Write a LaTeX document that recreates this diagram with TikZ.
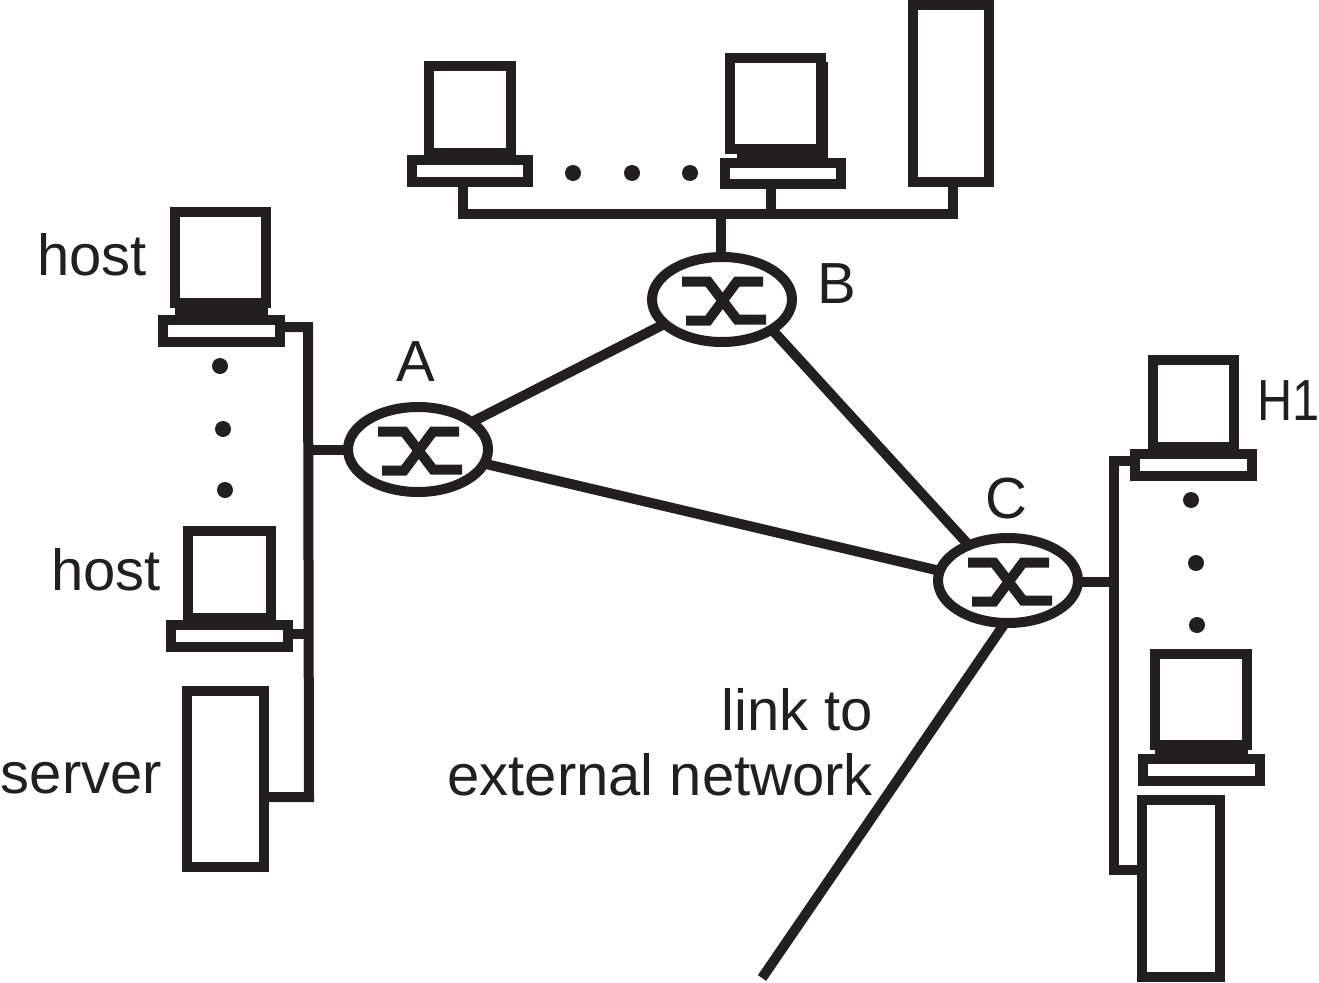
\documentclass[tikz,border=0pt]{standalone}
\usepackage{fontspec}
\setmainfont{Liberation Sans}
\usetikzlibrary{shapes.geometric}
\definecolor{ink}{HTML}{231F20}
\tikzset{
  link/.style={draw=ink,line width=10pt},
  boxn/.style={rectangle,draw=ink,fill=white,line width=10pt,inner sep=0pt,outer sep=0pt},
  router/.style={ellipse,draw=ink,fill=white,line width=10pt,minimum width=140pt,minimum height=85pt,inner sep=0pt,outer sep=0pt},
  dotn/.style={circle,fill=ink,minimum size=16pt,inner sep=0pt,outer sep=0pt},
  lab/.style={inner sep=0pt,outer sep=0pt,text=ink,font=\fontsize{58}{60}\selectfont},
}
% box given by the corners of its centre line
\newcommand{\bx}[5]{%
  \pgfmathsetmacro{\bxw}{#4-#2}\pgfmathsetmacro{\bxh}{#5-#3}%
  \pgfmathsetmacro{\bxcx}{(#4+#2)/2}\pgfmathsetmacro{\bxcy}{(#5+#3)/2}%
  \node[boxn,minimum width=\bxw pt,minimum height=\bxh pt] (#1) at (\bxcx,\bxcy) {};}
\newcommand{\xglyph}[1]{%
  \draw[link,shift={(#1.center)}] (-40,-18) -- (-14,-18) -- (15,20) -- (44,20);
  \draw[link,shift={(#1.center)}] (-36,21) -- (-14,21) -- (15,-18) -- (41,-18);}
\begin{document}
\begin{tikzpicture}[x=1pt,y=-1pt]
\useasboundingbox (0,0) rectangle (1319,982);
% routers
\node[router] (rA) at (418,449.5) {};
\node[router] (rB) at (722,299.5) {};
\node[router] (rC) at (1008,580.5) {};
\xglyph{rA}\xglyph{rB}\xglyph{rC}
% left group
\fill[ink] (175,300) rectangle (268,320);
\bx{h1m}{175}{212}{266}{303}
\bx{h1b}{163}{320}{280}{342}
\fill[ink] (188,612) rectangle (271,625);
\bx{h2m}{188}{531}{271}{618}
\bx{h2b}{171}{625}{288}{647}
\bx{s1}{187}{691}{264}{867}
% top group
\fill[ink] (429,148) rectangle (511,160);
\bx{t1m}{429}{66}{511}{153}
\bx{t1b}{412}{160}{528}{182}
\fill[ink] (737,145) rectangle (828,163);
\fill[ink] (816,62) rectangle (828,150);
\bx{t2m}{730}{58}{821}{149}
\bx{t2b}{725}{163}{841}{184}
\bx{s2}{913}{5}{989}{182}
% right group
\fill[ink] (1153,442) rectangle (1234,454);
\bx{h3m}{1153}{360}{1234}{447}
\bx{h3b}{1135}{454}{1252}{476}
\fill[ink] (1155,740) rectangle (1248,759);
\bx{h4m}{1155}{654}{1247}{745}
\bx{h4b}{1143}{759}{1260}{781}
\bx{s3}{1142}{800}{1220}{977}
% dots
\node[dotn] (d1) at (220,366) {};
\node[dotn] (d2) at (223,429) {};
\node[dotn] (d3) at (225,490) {};
\node[dotn] (d4) at (573,173) {};
\node[dotn] (d5) at (632,173) {};
\node[dotn] (d6) at (690,173) {};
\node[dotn] (d7) at (1191,500) {};
\node[dotn] (d8) at (1196,563) {};
\node[dotn] (d9) at (1197,625) {};
% bus points
\coordinate (lTop) at (308,327);
\coordinate (lBot) at (309,797);
\coordinate (lMid) at (308,449.5);
\coordinate (lH2) at (308,634);
\coordinate (tL) at (463,214);
\coordinate (tM) at (771,214);
\coordinate (tS) at (953,214);
\coordinate (tStem) at (721,214);
\coordinate (rTop) at (1114,461);
\coordinate (rBot) at (1114,870);
\coordinate (rMid) at (1114,582);
\coordinate (ext) at (762,978);
% connectors
\draw[link] (h1b.east |- lTop) -- (lTop) -- (lBot) -- (s1.east |- lBot);
\draw[link] (h2b.east |- lH2) -- (lH2);
\draw[link] (lMid) -- (rA.west |- lMid);
\draw[link] (t1b.south -| tL) -- (tL) -- (tS) -- (s2.south -| tS);
\draw[link] (t2b.south -| tM) -- (tM);
\draw[link] (tStem) -- (rB.north -| tStem);
\draw[link] (rA.27) -- (rB.-157);
\draw[link] (rA.-12.5) -- (rC.172.8);
\draw[link] (rB.-31) -- (rC.138);
\draw[link] (rC.-94) -- (ext);
\draw[link] (h3b.west |- rTop) -- (rTop) -- (rBot) -- (s3.west |- rBot);
\draw[link] (rC.east |- rMid) -- (rMid);
% labels
\node[lab,anchor=base west] (tA) at (396,381) {A};
\node[lab,anchor=base west] (tB) at (817,303) {B};
\node[lab,anchor=base west] (tC) at (985,518) {C};
\node[lab,anchor=base west] (tH) at (1257,420) {\scalebox{.84}[1]{H1}};
\node[lab,anchor=base west] (th1) at (37,275) {host};
\node[lab,anchor=base west] (th2) at (51,590) {host};
\node[lab,anchor=base west] (ts) at (1,793) {server};
\node[lab,anchor=base east] (tl1) at (873,730) {link to};
\node[lab,anchor=base east] (tl2) at (873,795) {external network};
\end{tikzpicture}
\end{document}
